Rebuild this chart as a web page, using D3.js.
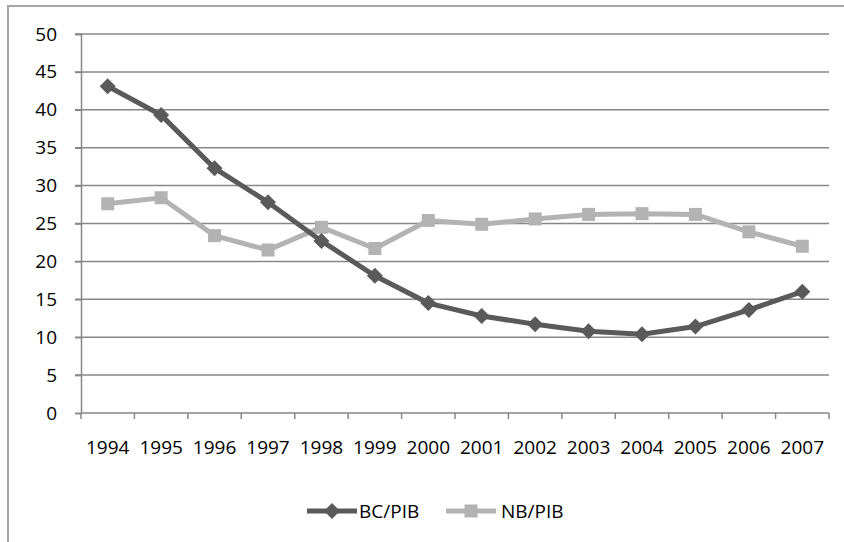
<!DOCTYPE html>
<html>
<head>
<meta charset="utf-8">
<script src="https://cdn.jsdelivr.net/npm/d3@7"></script>
<style>
  body { margin: 0; background: #fff; }
  svg text { font-family: "Open Sans", sans-serif; fill: #000; }
</style>
</head>
<body>
<div id="chart"></div>
<script>
// data
var years = ["1994","1995","1996","1997","1998","1999","2000","2001","2002","2003","2004","2005","2006","2007"];
var bcPib = [43.1, 39.3, 32.3, 27.8, 22.7, 18.1, 14.5, 12.8, 11.7, 10.8, 10.4, 11.4, 13.6, 16.0];
var nbPib = [27.6, 28.4, 23.4, 21.5, 24.5, 21.7, 25.4, 24.9, 25.6, 26.2, 26.3, 26.2, 23.9, 22.0];
var yTicks = [0, 5, 10, 15, 20, 25, 30, 35, 40, 45, 50];
var seriesNames = ["BC/PIB", "NB/PIB"];

var W = 844, H = 542;
var plotL = 81, plotR = 829, plotT = 34, plotB = 413;
var fontSize = "19px";

var svg = d3.select("#chart").append("svg")
    .attr("width", W)
    .attr("height", H);

// outer chart border (cropped on right and bottom)
svg.append("rect")
    .attr("x", 8).attr("y", 6)
    .attr("width", W + 10).attr("height", H + 10)
    .attr("fill", "#fff")
    .attr("stroke", "#a6a6a6")
    .attr("stroke-width", 2);

var x = d3.scaleBand()
    .domain(years)
    .range([plotL, plotR]);

var y = d3.scaleLinear()
    .domain([0, 50])
    .range([plotB, plotT]);

// gridlines
svg.append("g")
    .selectAll("line")
    .data(yTicks.filter(function(d){ return d > 0; }))
    .enter()
    .append("line")
      .attr("x1", plotL - 6)
      .attr("x2", plotR)
      .attr("y1", function(d){ return y(d); })
      .attr("y2", function(d){ return y(d); })
      .attr("stroke", "#878787")
      .attr("stroke-width", 1.5);

// y axis
var yAxis = svg.append("g")
    .attr("transform", "translate(" + plotL + ",0)")
    .call(d3.axisLeft(y).tickValues(yTicks).tickSize(6).tickPadding(18));
yAxis.select(".domain").attr("stroke", "#878787").attr("stroke-width", 1.5);
yAxis.selectAll(".tick line").attr("stroke", "#878787").attr("stroke-width", 1.5);
yAxis.selectAll("text").style("font-size", fontSize);

// x axis
var xAxis = svg.append("g")
    .attr("transform", "translate(0," + plotB + ")")
    .call(d3.axisBottom(x).tickSize(0).tickPadding(28));
xAxis.select(".domain").remove();
xAxis.selectAll("text").style("font-size", fontSize);
xAxis.append("line")
    .attr("x1", plotL).attr("x2", plotR)
    .attr("stroke", "#878787").attr("stroke-width", 1.5);
xAxis.selectAll("boundaryTicks")
    .data(d3.range(years.length + 1))
    .enter()
    .append("line")
      .attr("x1", function(i){ return plotL + i * x.step(); })
      .attr("x2", function(i){ return plotL + i * x.step(); })
      .attr("y1", 0).attr("y2", 6)
      .attr("stroke", "#878787").attr("stroke-width", 1.5);

var cx = function(d, i){ return x(years[i]) + x.bandwidth() / 2; };

var line = d3.line()
    .x(function(d, i){ return cx(d, i); })
    .y(function(d){ return y(d); });

// NB/PIB first so BC/PIB sits on top
svg.append("path")
    .datum(nbPib)
    .attr("d", line)
    .attr("fill", "none")
    .attr("stroke", "#b3b3b3")
    .attr("stroke-width", 5);
svg.selectAll("nbSquares")
    .data(nbPib)
    .enter()
    .append("rect")
      .attr("x", function(d, i){ return cx(d, i) - 6.5; })
      .attr("y", function(d){ return y(d) - 6.5; })
      .attr("width", 13).attr("height", 13)
      .attr("fill", "#b3b3b3");

svg.append("path")
    .datum(bcPib)
    .attr("d", line)
    .attr("fill", "none")
    .attr("stroke", "#5a5a5a")
    .attr("stroke-width", 5);
var diamond = d3.symbol().type(d3.symbolSquare).size(128);
svg.selectAll("bcDiamonds")
    .data(bcPib)
    .enter()
    .append("path")
      .attr("d", diamond)
      .attr("transform", function(d, i){ return "translate(" + cx(d, i) + "," + y(d) + ") rotate(45)"; })
      .attr("fill", "#5a5a5a");

// legend
var legY = 511;
var leg = svg.append("g");
leg.append("line")
    .attr("x1", 307).attr("x2", 357)
    .attr("y1", legY).attr("y2", legY)
    .attr("stroke", "#5a5a5a").attr("stroke-width", 5);
leg.append("path")
    .attr("d", diamond)
    .attr("transform", "translate(332," + legY + ") rotate(45)")
    .attr("fill", "#5a5a5a");
leg.append("text")
    .attr("x", 359).attr("y", legY)
    .attr("dy", "0.35em")
    .style("font-size", fontSize)
    .text(seriesNames[0]);

leg.append("line")
    .attr("x1", 446).attr("x2", 496)
    .attr("y1", legY).attr("y2", legY)
    .attr("stroke", "#b3b3b3").attr("stroke-width", 5);
leg.append("rect")
    .attr("x", 471 - 6.5).attr("y", legY - 6.5)
    .attr("width", 13).attr("height", 13)
    .attr("fill", "#b3b3b3");
leg.append("text")
    .attr("x", 501).attr("y", legY)
    .attr("dy", "0.35em")
    .style("font-size", fontSize)
    .text(seriesNames[1]);
</script>
</body>
</html>
